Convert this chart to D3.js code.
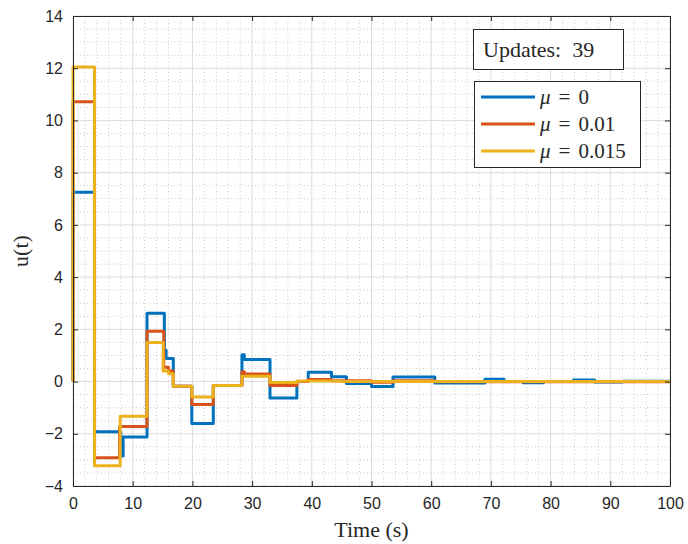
<!DOCTYPE html>
<html>
<head>
<meta charset="utf-8">
<script src="https://cdn.jsdelivr.net/npm/d3@7"></script>
<style>
  body { margin: 0; background: #fff; }
  svg { display: block; }
</style>
</head>
<body>
<svg id="chart" width="688" height="544"></svg>
<script>
// step times / values (stairs, value holds until next time)
const blueT = [0, 0, 3.6, 8.0, 8.4, 12.4, 15.3, 15.6, 16.8, 19.9, 23.5, 28.3, 28.7, 33.0, 37.5, 39.4, 43.3, 45.8, 50.0, 53.6, 60.6, 69.0, 72.2, 75.4, 78.8, 83.8, 87.4, 92.0, 100]
const blueV = [0, 7.25, -1.92, -2.85, -2.12, 2.62, 1.2, 0.88, -0.18, -1.61, -0.15, 1.03, 0.84, -0.63, 0.0, 0.36, 0.18, -0.07, -0.19, 0.17, -0.06, 0.09, 0.0, -0.05, 0.0, 0.06, -0.02, 0.01, 0.01]

const redT = [0, 0, 3.6, 7.8, 12.4, 15.2, 16.0, 16.8, 19.9, 23.5, 28.3, 28.7, 33.0, 37.5, 39.4, 43.3, 50.0, 53.6, 60.6, 100]
const redV = [0, 10.72, -2.92, -1.72, 1.93, 0.55, 0.4, -0.18, -0.88, -0.15, 0.38, 0.29, -0.15, 0.0, 0.08, 0.03, -0.03, 0.03, -0.01, -0.01]

const yelT = [0, 0, 3.6, 7.9, 12.4, 15.1, 16.0, 16.8, 19.9, 23.5, 28.3, 33.0, 37.5, 45.0, 100]
const yelV = [0, 12.05, -3.22, -1.33, 1.5, 0.4, 0.3, -0.18, -0.59, -0.15, 0.2, -0.04, 0.02, 0.0, 0.0]

const seriesNames = ['\u03bc = 0', '\u03bc = 0.01', '\u03bc = 0.015']
const seriesColors = ['#0072BD', '#D95319', '#EDB120']
const xTicks = [0, 10, 20, 30, 40, 50, 60, 70, 80, 90, 100]
const yTicks = [-4, -2, 0, 2, 4, 6, 8, 10, 12, 14]
const updates = 39

const svg = d3.select('#chart')
const pLeft = 73, pRight = 670, pTop = 16, pBottom = 486
const x = d3.scaleLinear().domain([0, 100]).range([pLeft, pRight])
const y = d3.scaleLinear().domain([-4, 14]).range([pBottom, pTop])

// minor grid (dotted)
const gMinor = svg.append('g')
d3.range(0, 100.01, 2).filter(v => v % 10 !== 0).forEach(v => {
  gMinor.append('line')
    .attr('x1', x(v)).attr('x2', x(v)).attr('y1', pTop).attr('y2', pBottom)
    .attr('stroke', '#bdbdbd').attr('stroke-width', 0.8).attr('stroke-dasharray', '1,2.5')
})
d3.range(-4, 14.01, 0.5).filter(v => v % 2 !== 0).forEach(v => {
  gMinor.append('line')
    .attr('x1', pLeft).attr('x2', pRight).attr('y1', y(v)).attr('y2', y(v))
    .attr('stroke', '#bdbdbd').attr('stroke-width', 0.8).attr('stroke-dasharray', '1,2.5')
})

// major grid
const gGrid = svg.append('g')
xTicks.forEach(v => {
  gGrid.append('line')
    .attr('x1', x(v)).attr('x2', x(v)).attr('y1', pTop).attr('y2', pBottom)
    .attr('stroke', '#dcdcdc').attr('stroke-width', 1)
})
yTicks.forEach(v => {
  gGrid.append('line')
    .attr('x1', pLeft).attr('x2', pRight).attr('y1', y(v)).attr('y2', y(v))
    .attr('stroke', '#dcdcdc').attr('stroke-width', 1)
})

// lines
const line = d3.line().x(d => x(d[0])).y(d => y(d[1])).curve(d3.curveStepAfter)
const allSeries = [
  d3.zip(blueT, blueV),
  d3.zip(redT, redV),
  d3.zip(yelT, yelV)
]
allSeries.forEach((pts, i) => {
  svg.append('path')
    .datum(pts)
    .attr('d', line)
    .attr('fill', 'none')
    .attr('stroke', seriesColors[i])
    .attr('stroke-width', 3)
    .attr('stroke-linejoin', 'round')
})

// axes with inside ticks on all four sides
const tickFont = '"Liberation Sans", Arial, sans-serif'
const axB = svg.append('g').attr('transform', `translate(0,${pBottom})`)
  .call(d3.axisBottom(x).tickValues(xTicks).tickSizeInner(-5).tickSizeOuter(0).tickPadding(12))
const axT = svg.append('g').attr('transform', `translate(0,${pTop})`)
  .call(d3.axisTop(x).tickValues(xTicks).tickSizeInner(-5).tickSizeOuter(0).tickFormat(''))
const axL = svg.append('g').attr('transform', `translate(${pLeft},0)`)
  .call(d3.axisLeft(y).tickValues(yTicks).tickSizeInner(-5).tickSizeOuter(0).tickPadding(10))
const axR = svg.append('g').attr('transform', `translate(${pRight},0)`)
  .call(d3.axisRight(y).tickValues(yTicks).tickSizeInner(-5).tickSizeOuter(0).tickFormat(''))
;[axB, axT, axL, axR].forEach(a => {
  a.selectAll('path').attr('stroke', '#262626').attr('stroke-width', 1)
  a.selectAll('line').attr('stroke', '#262626')
  a.selectAll('text').attr('fill', '#262626').style('font-family', tickFont).style('font-size', '16px')
})

// axis labels
const serif = '"Liberation Serif", "DejaVu Serif", serif'
svg.append('text')
  .attr('x', (pLeft + pRight) / 2).attr('y', 537)
  .attr('text-anchor', 'middle')
  .style('font-family', serif).style('font-size', '22px').attr('fill', '#262626')
  .text('Time (s)')
svg.append('text')
  .attr('transform', `translate(28,${(pTop + pBottom) / 2}) rotate(-90)`)
  .attr('text-anchor', 'middle')
  .style('font-family', serif).style('font-size', '22px').attr('fill', '#262626')
  .text('u(t)')

// updates box
svg.append('rect')
  .attr('x', 473.5).attr('y', 29.5).attr('width', 150).attr('height', 40)
  .attr('fill', '#fff').attr('stroke', '#262626').attr('stroke-width', 1)
svg.append('text')
  .attr('x', 483).attr('y', 57)
  .style('font-family', serif).style('font-size', '22px').attr('fill', '#262626')
  .attr('xml:space', 'preserve')
  .text('Updates:  ' + updates)

// legend
const lg = svg.append('g')
lg.append('rect')
  .attr('x', 474.5).attr('y', 81.5).attr('width', 166).attr('height', 86)
  .attr('fill', '#fff').attr('stroke', '#262626').attr('stroke-width', 1)
const rowY = [97, 124, 151]
seriesNames.forEach((name, i) => {
  lg.append('line')
    .attr('x1', 481).attr('x2', 535).attr('y1', rowY[i]).attr('y2', rowY[i])
    .attr('stroke', seriesColors[i]).attr('stroke-width', 3)
  const t = lg.append('text')
    .attr('x', 540).attr('y', rowY[i] + 7)
    .style('font-family', serif).style('font-size', '21px').attr('fill', '#262626')
  const parts = name.split(' = ')
  t.append('tspan').style('font-style', 'italic').text(parts[0])
  t.append('tspan').attr('dx', 8).text('=')
  t.append('tspan').attr('dx', 8).text(parts[1])
})
</script>
</body>
</html>
